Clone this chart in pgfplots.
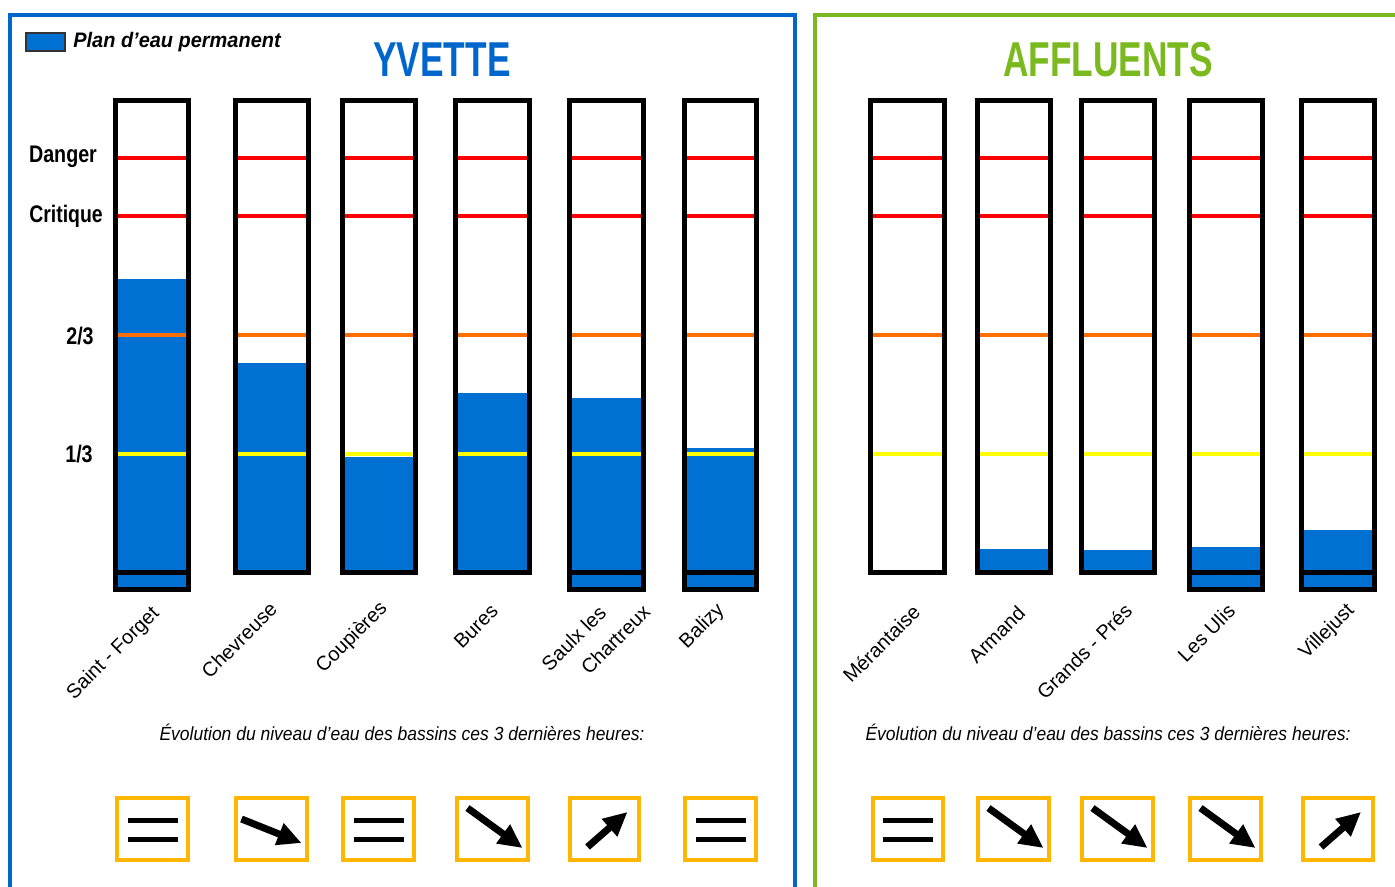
\documentclass[border=0pt]{standalone}
\usepackage{pgfplots}
\pgfplotsset{compat=1.18}
\usetikzlibrary{arrows.meta}
\usepackage{fontspec}
\setmainfont{Liberation Sans}

\definecolor{wblue}{RGB}{0,112,210}
\definecolor{fblue}{RGB}{0,102,204}
\definecolor{fgreen}{RGB}{122,186,30}
\definecolor{lorange}{RGB}{255,110,0}
\definecolor{lyellow}{RGB}{255,255,0}
\definecolor{bxorange}{RGB}{255,182,0}

% gauge: left/right border centres, water level (1 = Critique), extra compartment (0/1)
\newcommand\gauge[4]{%
  \pgfmathsetmacro\ly{573-357*#3}%
  \edef\temp{\noexpand\addplot[draw=none, fill=wblue] coordinates {(#1,573) (#2,573) (#2,\ly) (#1,\ly)} -- cycle;}\temp
  \def\yb{572.5}%
  \ifnum#4=1\relax
    \addplot[draw=none, fill=wblue] coordinates {(#1,573) (#2,573) (#2,589) (#1,589)} -- cycle;
    \def\yb{589.5}%
  \fi
  \addplot[red, line width=2pt] coordinates {(#1,158) (#2,158)};
  \addplot[red, line width=2pt] coordinates {(#1,216) (#2,216)};
  \addplot[lorange, line width=2pt] coordinates {(#1,335) (#2,335)};
  \addplot[lyellow, line width=2pt] coordinates {(#1,454) (#2,454)};
  \ifnum#4=1\relax
    \addplot[black, line width=2.5pt] coordinates {(#1,572.5) (#2,572.5)};
  \fi
  \edef\temp{\noexpand\addplot[black, line width=2.5pt] coordinates {(#1,100.5) (#2,100.5) (#2,\yb) (#1,\yb)} -- cycle;}\temp
}

% trend box: left/right, kind 0 steady, 1 slow fall, 2 fall, 3 rise
\newcommand\trend[3]{%
  \addplot[bxorange, line width=2pt] coordinates {(#1,798) (#2,798) (#2,860) (#1,860)} -- cycle;
  \pgfmathsetmacro\cx{(#1+#2)/2}%
  \ifcase#3\relax
    \pgfmathsetmacro\xa{\cx-25}\pgfmathsetmacro\xb{\cx+25}%
    \edef\temp{\noexpand\addplot[black, line width=2.5pt] coordinates {(\xa,820) (\xb,820)};
      \noexpand\addplot[black, line width=2.5pt] coordinates {(\xa,839) (\xb,839)};}\temp
  \or
    \pgfmathsetmacro\xa{\cx-30}\pgfmathsetmacro\xb{\cx+30}%
    \edef\temp{\noexpand\addplot[black, line width=3.5pt, -{Triangle[length=12pt,width=11pt]}] coordinates {(\xa,819) (\xb,843)};}\temp
  \or
    \pgfmathsetmacro\xa{\cx-25}\pgfmathsetmacro\xb{\cx+30}%
    \edef\temp{\noexpand\addplot[black, line width=3.5pt, -{Triangle[length=12pt,width=11pt]}] coordinates {(\xa,808) (\xb,848)};}\temp
  \or
    \pgfmathsetmacro\xa{\cx-17}\pgfmathsetmacro\xb{\cx+23}%
    \edef\temp{\noexpand\addplot[black, line width=3.5pt, -{Triangle[length=12pt,width=11pt]}] coordinates {(\xa,847) (\xb,812)};}\temp
  \fi
}

\begin{document}
\begin{tikzpicture}
\begin{axis}[width=697.5pt, height=443.5pt, scale only axis,
  xmin=0, xmax=1395, ymin=0, ymax=887, y dir=reverse, hide axis]

% frames
\addplot[fblue, line width=2pt] coordinates {(10,887) (10,15) (794.5,15) (794.5,887)};
\addplot[fgreen, line width=2pt] coordinates {(815,887) (815,15) (1395,15)};

% legend
\addplot[fill=wblue, draw=black!80, line width=0.6pt] coordinates {(26,33) (65,33) (65,51) (26,51)} -- cycle;
\node[anchor=west, font=\bfseries\itshape\fontsize{10.5}{12}\selectfont, xscale=0.95, inner sep=0pt] at (73,42) {Plan d’eau permanent};

% titles
\node[font=\bfseries\fontsize{24.5}{26}\selectfont, text=fblue, xscale=0.72] at (442,60) {YVETTE};
\node[font=\bfseries\fontsize{24.5}{26}\selectfont, text=fgreen, xscale=0.72] at (1108,60) {AFFLUENTS};

% level names
\node[font=\bfseries\fontsize{12}{14}\selectfont, xscale=0.82] at (63,157) {Danger};
\node[font=\bfseries\fontsize{12}{14}\selectfont, xscale=0.81] at (66,216) {Critique};
\node[anchor=east, font=\bfseries\fontsize{12}{14}\selectfont, xscale=0.82, inner sep=0pt] at (94,336) {2/3};
\node[anchor=east, font=\bfseries\fontsize{12}{14}\selectfont, xscale=0.82, inner sep=0pt] at (93,454) {1/3};

% Yvette gauges
\gauge{115.5}{188.5}{0.824}{1}
\gauge{235.5}{308.5}{0.588}{0}
\gauge{342.5}{415.5}{0.325}{0}
\gauge{455.5}{529.5}{0.504}{0}
\gauge{569.5}{643.5}{0.490}{1}
\gauge{684.5}{756.5}{0.350}{1}
% Affluents gauges
\gauge{870.5}{944.5}{0}{0}
\gauge{977.5}{1050.5}{0.067}{0}
\gauge{1081.5}{1154.5}{0.064}{0}
\gauge{1189.5}{1262.5}{0.073}{1}
\gauge{1301.5}{1374.5}{0.120}{1}

% station names
\tikzset{lab/.style={rotate=45, anchor=east, inner sep=1pt, font=\fontsize{10}{12}\selectfont}}
\node[lab] at (158,609) {Saint - Forget};
\node[lab] at (275,604) {Chevreuse};
\node[lab] at (386,604) {Coupières};
\node[lab] at (496,606) {Bures};
\node[lab] at (604,608) {Saulx les};
\node[lab] at (648,607) {Chartreux};
\node[lab] at (723,606) {Balizy};
\node[lab] at (918,607) {Mérantaise};
\node[lab] at (1023,608) {Armand};
\node[lab] at (1130,606) {Grands - Prés};
\node[lab] at (1233,606) {Les Ulis};
\node[lab] at (1353,606) {Villejust};

% captions
\node[font=\itshape\fontsize{9.5}{11}\selectfont, xscale=0.92] at (402,732) {Évolution du niveau d’eau des bassins ces 3 dernières heures:};
\node[font=\itshape\fontsize{9.5}{11}\selectfont, xscale=0.92] at (1108,732) {Évolution du niveau d’eau des bassins ces 3 dernières heures:};

% trends
\trend{117}{188}{0}
\trend{236}{307}{1}
\trend{343}{414}{0}
\trend{457}{528}{2}
\trend{570}{639}{3}
\trend{685}{756}{0}
\trend{873}{943}{0}
\trend{978}{1049}{2}
\trend{1082}{1153}{2}
\trend{1190}{1261}{2}
\trend{1303}{1373}{3}

\end{axis}
\path (current axis.south west) rectangle (current axis.north east);
\end{tikzpicture}
\end{document}
